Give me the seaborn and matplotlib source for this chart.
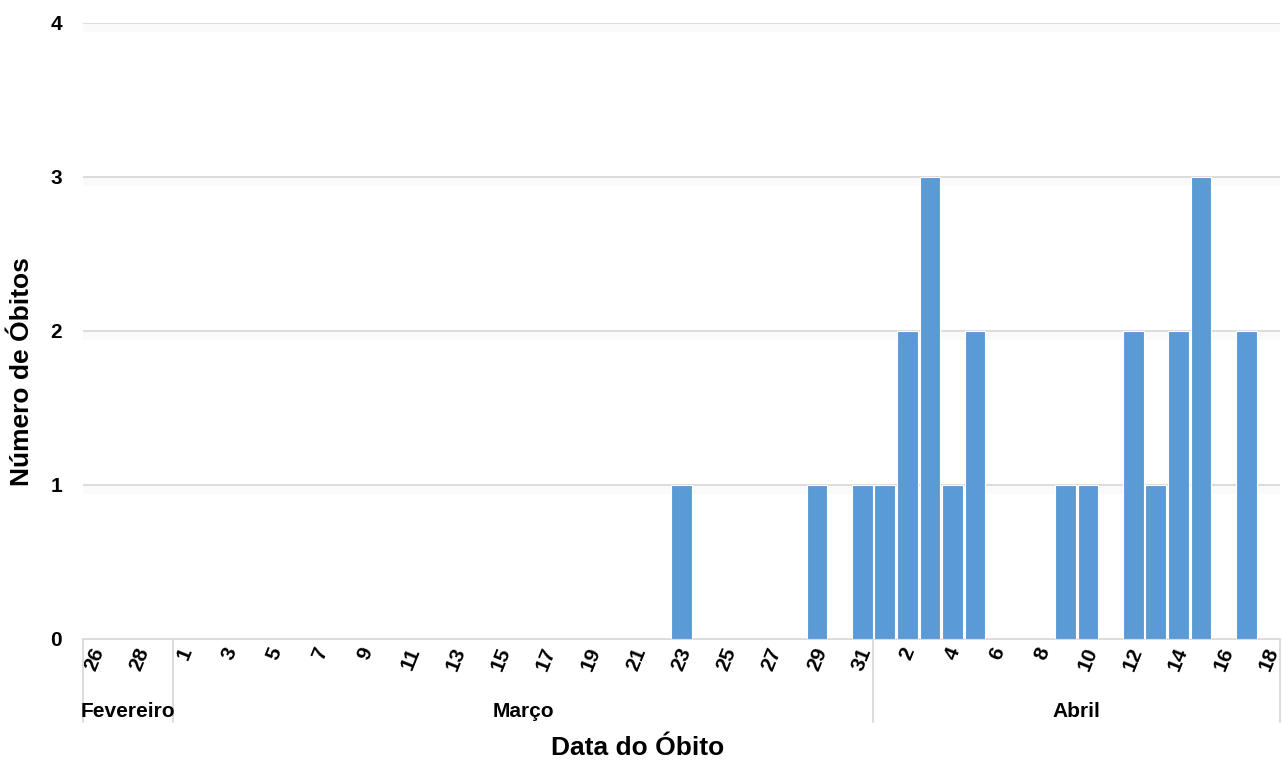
import matplotlib
matplotlib.use("Agg")
import matplotlib.pyplot as plt
import matplotlib.transforms as mtransforms
import seaborn as sns
import pandas as pd

# ---- data ----
feb_days = [26, 27, 28, 29]
mar_days = list(range(1, 32))
apr_days = list(range(1, 19))
feb_vals = [0, 0, 0, 0]
mar_vals = [0, 0, 0, 0, 0, 0, 0, 0, 0, 0,
            0, 0, 0, 0, 0, 0, 0, 0, 0, 0,
            0, 0, 1, 0, 0, 0, 0, 0, 1, 0, 1]
apr_vals = [1, 2, 3, 1, 2, 0, 0, 0, 1, 1, 0, 2, 1, 2, 3, 0, 2, 0]
months = ["Fevereiro", "Março", "Abril"]
y_ticks = [0, 1, 2, 3, 4]

days = feb_days + mar_days + apr_days
vals = feb_vals + mar_vals + apr_vals
month_of = [months[0]] * len(feb_days) + [months[1]] * len(mar_days) + [months[2]] * len(apr_days)
keys = [f"{m}-{d}" for m, d in zip(month_of, days)]
df = pd.DataFrame({"key": keys, "day": days, "n": vals, "month": month_of})

sns.set_theme(style="white")
plt.rcParams["font.family"] = ["Liberation Sans", "DejaVu Sans"]
plt.rcParams["font.weight"] = "bold"

fig = plt.figure(figsize=(12.82, 7.60), dpi=100)
ax = fig.add_axes([83 / 1282, (760 - 639) / 760, (1280 - 83) / 1282, (639 - 23) / 760])

sns.barplot(data=df, x="key", y="n", order=keys, color="#5B9BD5", saturation=1,
            width=0.92, edgecolor="white", linewidth=0.8, ax=ax, zorder=3)

ax.set_ylim(0, 4)
ax.set_xlim(-0.5, len(keys) - 0.5)
ax.set_yticks(y_ticks)
ax.set_yticklabels([str(t) for t in y_ticks], fontsize=15, fontweight="bold", color="black")
for t in y_ticks[1:]:
    ax.axhline(t, color="#d9d9d9", lw=1.3, zorder=1)
    ax.axhspan(t - 0.06, t, color="#fafafa", zorder=0, lw=0)

tick_idx = list(range(0, len(keys), 2))
ax.set_xticks(tick_idx)
ax.set_xticklabels([str(days[i]) for i in tick_idx], rotation=68, fontsize=15,
                   fontweight="bold", color="black", ha="center", va="top")
ax.tick_params(axis="both", length=0)
ax.tick_params(axis="y", pad=15)
ax.tick_params(axis="x", pad=4)
ax.set_xlabel("")
ax.set_ylabel("")

for s in ["top", "right", "left"]:
    ax.spines[s].set_visible(False)
ax.spines["bottom"].set_color("#d9d9d9")
ax.spines["bottom"].set_linewidth(1.3)

# month group separators and labels
trans = mtransforms.blended_transform_factory(ax.transData, ax.transAxes)
bounds = [-0.5, len(feb_days) - 0.5, len(feb_days) + len(mar_days) - 0.5, len(keys) - 0.5]
for b in bounds:
    ax.plot([b, b], [0, -0.135], color="#d9d9d9", lw=1.3, transform=trans, clip_on=False)
for i, m in enumerate(months):
    ax.text((bounds[i] + bounds[i + 1]) / 2, -0.118, m, transform=trans, ha="center",
            va="center", fontsize=15, fontweight="bold", color="black")

fig.text(638 / 1282, 1 - 748 / 760, "Data do Óbito", ha="center", va="center",
         fontsize=19, fontweight="bold", color="black")
fig.text(22 / 1282, 1 - 372 / 760, "Número de Óbitos", ha="center", va="center",
         rotation=90, fontsize=19, fontweight="bold", color="black")

fig.savefig("out.png", dpi=100)
